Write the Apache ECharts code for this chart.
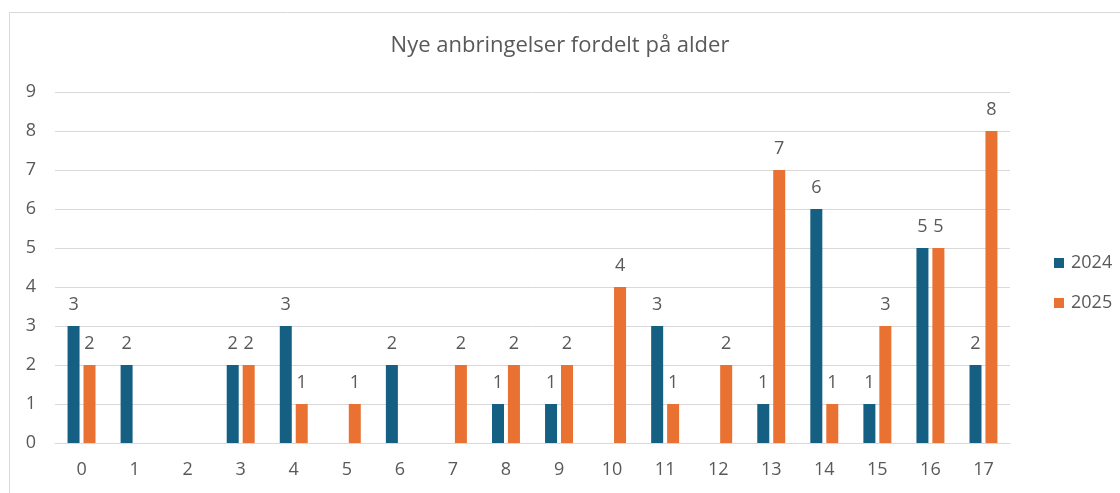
<!DOCTYPE html>
<html>
<head>
<meta charset="utf-8">
<script src="https://cdn.jsdelivr.net/npm/echarts@6/dist/echarts.min.js"></script>
<style>
  html, body { margin: 0; padding: 0; background: #fff; }
  #chart { width: 1120px; height: 493px; }
</style>
</head>
<body>
<div id="chart"></div>
<script>
// aldre 0-17
const ages = ['0','1','2','3','4','5','6','7','8','9','10','11','12','13','14','15','16','17']
// null = ingen søjle / ingen etiket
const values2024 = [3, 2, null, 2, 3, null, 2, null, 1, 1, null, 3, null, 1, 6, 1, 5, 2]
const values2025 = [2, null, null, 2, 1, 1, null, 2, 2, 2, 4, 1, 2, 7, 1, 3, 5, 8]
const yTicks = [0, 9, 1] // min, max, interval

const textColor = '#595959'
const font = 'Open Sans'

const myChart = echarts.init(document.getElementById('chart'), null, { renderer: 'canvas' })

const labelStyle = {
  show: true,
  position: 'top',
  distance: 12,
  color: textColor,
  fontSize: 18,
  fontFamily: font
}

myChart.setOption({
  animation: false,
  backgroundColor: '#fff',
  graphic: [{
    type: 'rect',
    shape: { x: 9.5, y: 12.5, width: 1200, height: 600 },
    style: { fill: 'none', stroke: '#d9d9d9', lineWidth: 1 },
    silent: true
  }],
  title: {
    text: 'Nye anbringelser fordelt på alder',
    left: 'center',
    top: 30,
    textStyle: { color: textColor, fontSize: 22, fontWeight: 'normal', fontFamily: font }
  },
  legend: {
    orient: 'vertical',
    left: 1049,
    top: 247,
    itemWidth: 10,
    itemHeight: 10,
    itemGap: 18,
    icon: 'rect',
    textStyle: { color: textColor, fontSize: 18, lineHeight: 22, fontFamily: font, padding: [0, 0, 0, 2] }
  },
  grid: { left: 55, right: 110, top: 92, bottom: 50, containLabel: false },
  xAxis: {
    type: 'category',
    data: ages,
    axisLine: { lineStyle: { color: '#d9d9d9' } },
    axisTick: { show: false },
    axisLabel: { color: textColor, fontSize: 18, fontFamily: font, margin: 18 }
  },
  yAxis: {
    type: 'value',
    min: yTicks[0],
    max: yTicks[1],
    interval: yTicks[2],
    axisLine: { show: false },
    axisTick: { show: false },
    splitLine: { lineStyle: { color: '#d9d9d9' } },
    axisLabel: { color: textColor, fontSize: 18, fontFamily: font, margin: 19 }
  },
  series: [
    {
      name: '2024',
      type: 'bar',
      data: values2024,
      barWidth: 12,
      barGap: '33%',
      itemStyle: { color: '#156082' },
      label: labelStyle
    },
    {
      name: '2025',
      type: 'bar',
      data: values2025,
      barWidth: 12,
      itemStyle: { color: '#E97132' },
      label: labelStyle
    }
  ]
})
</script>
</body>
</html>
